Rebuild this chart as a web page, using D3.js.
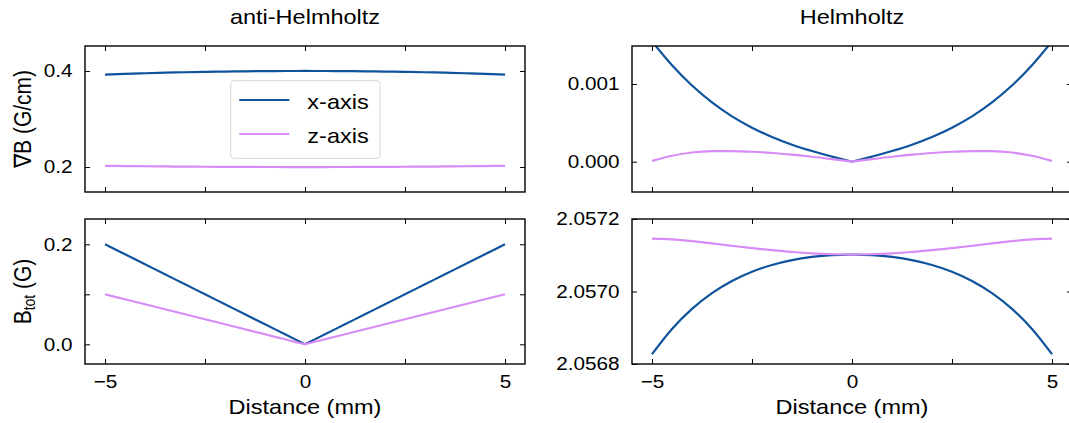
<html>
<head>
<meta charset="utf-8">
<script src="https://d3js.org/d3.v7.min.js"></script>
<style>
  body { margin: 0; background: white; }
  text { font-family: "Liberation Sans", Arial, Helvetica, sans-serif; fill: black; }
</style>
</head>
<body>
<div id="chart"></div>
<script>
// distance (mm)
const distance = [-5, -4.5, -4, -3.5, -3, -2.5, -2, -1.5, -1, -0.5, 0, 0.5, 1, 1.5, 2, 2.5, 3, 3.5, 4, 4.5, 5];

// anti-Helmholtz, gradient (G/cm)
const gradAntiX = [0.3926, 0.3940, 0.3953, 0.3964, 0.3973, 0.3982, 0.3988, 0.3993, 0.3997, 0.3999, 0.4000,
                   0.3999, 0.3997, 0.3993, 0.3988, 0.3982, 0.3973, 0.3964, 0.3953, 0.3940, 0.3926];
const gradAntiZ = [0.2025, 0.2020, 0.2016, 0.2012, 0.2009, 0.2006, 0.2004, 0.2002, 0.2001, 0.2000, 0.2000,
                   0.2000, 0.2001, 0.2002, 0.2004, 0.2006, 0.2009, 0.2012, 0.2016, 0.2020, 0.2025];
// anti-Helmholtz, B total (G)
const btotAntiX = [0.200, 0.180, 0.160, 0.140, 0.120, 0.100, 0.080, 0.060, 0.040, 0.020, 0.000,
                   0.020, 0.040, 0.060, 0.080, 0.100, 0.120, 0.140, 0.160, 0.180, 0.200];
const btotAntiZ = [0.100, 0.090, 0.080, 0.070, 0.060, 0.050, 0.040, 0.030, 0.020, 0.010, 0.000,
                   0.010, 0.020, 0.030, 0.040, 0.050, 0.060, 0.070, 0.080, 0.090, 0.100];
// Helmholtz, gradient (G/cm)
const gradHelmX = [0.00155, 0.001241, 0.000981, 0.000764, 0.000584, 0.000438, 0.000318, 0.000219, 0.000137, 0.000066, 0,
                   0.000066, 0.000137, 0.000219, 0.000318, 0.000438, 0.000584, 0.000764, 0.000981, 0.001241, 0.00155];
const gradHelmZ = [0.000010, 0.000076, 0.000118, 0.000135, 0.000137, 0.000128, 0.000112, 0.000090, 0.000064, 0.000033, 0,
                   0.000033, 0.000064, 0.000090, 0.000112, 0.000128, 0.000137, 0.000135, 0.000118, 0.000076, 0.000010];
// Helmholtz, B total (G)
const btotHelmX = [2.056827, 2.0568966, 2.0569519, 2.0569954, 2.0570289, 2.0570544, 2.0570731, 2.0570865, 2.0570953, 2.0571004, 2.057102,
                   2.0571004, 2.0570953, 2.0570865, 2.0570731, 2.0570544, 2.0570289, 2.0569954, 2.0569519, 2.0568966, 2.056827];
const btotHelmZ = [2.0571457, 2.0571436, 2.0571389, 2.0571327, 2.0571261, 2.0571197, 2.0571139, 2.0571089, 2.0571052, 2.0571028, 2.057102,
                   2.0571028, 2.0571052, 2.0571089, 2.0571139, 2.0571197, 2.0571261, 2.0571327, 2.0571389, 2.0571436, 2.0571457];

const xTicks = [-5, -2.5, 0, 2.5, 5];
const seriesNames = ["x-axis", "z-axis"];
const colors = ["#0e539b", "#d88cf7"];

const W = 1069, H = 423;
const SX = 1.12; // the original picture is a bit wider than tall
const tickFont = 18.5, bigFont = 21;

var svg = d3.select("#chart").append("svg")
  .attr("width", W).attr("height", H);

// stretch a text horizontally around its anchor point
function stretch(sel, rotate) {
  sel.each(function () {
    var t = d3.select(this);
    var x = +t.attr("x") || 0, y = +t.attr("y") || 0;
    t.attr("x", 0).attr("y", 0)
      .attr("transform", `translate(${x},${y}) scale(${SX},1)` + (rotate ? " rotate(-90)" : ""));
  });
}

var cols = [{ x0: 85, x1: 525 }, { x0: 632, x1: 1072 }];
var rows = [{ y0: 46, y1: 192 }, { y0: 219, y1: 364 }];

// split: the curve has a kink at 0, so each half is drawn on its own
var panels = [
  { c: 0, r: 0, dom: [0.148, 0.452], ys: [gradAntiX, gradAntiZ], yt: [0.2, 0.4], split: false, fmt: d => d.toFixed(1) },
  { c: 0, r: 1, dom: [-0.0394, 0.2506], ys: [btotAntiX, btotAntiZ], yt: [0, 0.1, 0.2], split: true, fmt: d => (Math.abs(d - 0.1) < 1e-9 ? "" : d.toFixed(1)) },
  { c: 1, r: 0, dom: [-0.00039, 0.001489], ys: [gradHelmX, gradHelmZ], yt: [0, 0.001], split: true, fmt: d => d.toFixed(3) },
  { c: 1, r: 1, dom: [2.0568, 2.0572], ys: [btotHelmX, btotHelmZ], yt: [2.0568, 2.057, 2.0572], split: false, fmt: d => d.toFixed(4) }
];

panels.forEach(function (p, i) {
  var c = cols[p.c], r = rows[p.r];
  var x = d3.scaleLinear().domain([-5.5, 5.5]).range([c.x0, c.x1]);
  var y = d3.scaleLinear().domain(p.dom).range([r.y1, r.y0]);

  svg.append("clipPath").attr("id", "clip" + i)
    .append("rect").attr("x", c.x0).attr("y", r.y0)
    .attr("width", c.x1 - c.x0).attr("height", r.y1 - r.y0);

  var line = d3.line().x(d => x(d[0])).y(d => y(d[1])).curve(d3.curveMonotoneX);
  p.ys.forEach(function (vals, s) {
    var pts = distance.map((d, k) => [d, vals[k]]);
    var parts = p.split ? [pts.filter(d => d[0] <= 0), pts.filter(d => d[0] >= 0)] : [pts];
    parts.forEach(function (part) {
      svg.append("path")
        .datum(part)
        .attr("clip-path", `url(#clip${i})`)
        .attr("fill", "none")
        .attr("stroke", colors[s])
        .attr("stroke-width", 2.2)
        .attr("stroke-linejoin", "round")
        .attr("d", line);
    });
  });

  var xf = d3.format("");
  var bottom = svg.append("g").attr("transform", `translate(0,${r.y1})`)
    .call(d3.axisBottom(x).tickValues(xTicks).tickSizeInner(-5).tickSizeOuter(0).tickPadding(11)
      .tickFormat(d => (p.r === 1 && d % 5 === 0) ? xf(d) : ""));
  var top = svg.append("g").attr("transform", `translate(0,${r.y0})`)
    .call(d3.axisTop(x).tickValues(xTicks).tickSizeInner(-5).tickSizeOuter(0).tickFormat(""));
  var left = svg.append("g").attr("transform", `translate(${c.x0},0)`)
    .call(d3.axisLeft(y).tickValues(p.yt).tickSizeInner(-5).tickSizeOuter(0).tickPadding(12.5).tickFormat(p.fmt));
  var right = svg.append("g").attr("transform", `translate(${c.x1},0)`)
    .call(d3.axisRight(y).tickValues(p.yt).tickSizeInner(-5).tickSizeOuter(0).tickFormat(""));

  [bottom, top, left, right].forEach(function (a) {
    a.select(".domain").remove();
    a.selectAll(".tick line").attr("stroke", "black").attr("stroke-width", 1);
    a.selectAll(".tick text").attr("font-size", tickFont).attr("fill", "black")
      .style("font-family", '"Liberation Sans", Arial, sans-serif');
  });
  stretch(bottom.selectAll(".tick text"));
  stretch(left.selectAll(".tick text"));

  svg.append("rect")
    .attr("x", c.x0).attr("y", r.y0)
    .attr("width", c.x1 - c.x0).attr("height", r.y1 - r.y0)
    .attr("fill", "none").attr("stroke", "black").attr("stroke-width", 1.4);
});

// titles
["anti-Helmholtz", "Helmholtz"].forEach(function (t, i) {
  svg.append("text").attr("x", (cols[i].x0 + cols[i].x1) / 2).attr("y", 24)
    .attr("text-anchor", "middle").attr("font-size", bigFont).text(t)
    .call(stretch);
});

// x labels
cols.forEach(function (c) {
  svg.append("text").attr("x", (c.x0 + c.x1) / 2).attr("y", 414)
    .attr("text-anchor", "middle").attr("font-size", bigFont).text("Distance (mm)")
    .call(stretch);
});

// y labels
svg.append("text").attr("x", 31).attr("y", (rows[0].y0 + rows[0].y1) / 2)
  .attr("text-anchor", "middle").attr("font-size", bigFont).text("\u2207B (G/cm)")
  .call(stretch, true);

var yl = svg.append("text").attr("x", 31).attr("y", (rows[1].y0 + rows[1].y1) / 2)
  .attr("text-anchor", "middle").attr("font-size", bigFont);
yl.append("tspan").text("B");
yl.append("tspan").attr("font-size", 14).attr("dy", 4).text("tot");
yl.append("tspan").attr("dy", -4).text(" (G)");
yl.call(stretch, true);

// legend
var lg = svg.append("g");
lg.append("rect").attr("x", 230.7).attr("y", 80.7).attr("width", 149.3).attr("height", 77.6)
  .attr("rx", 3).attr("fill", "white").attr("fill-opacity", 0.8)
  .attr("stroke", "#d6d6d6").attr("stroke-width", 1);
seriesNames.forEach(function (n, s) {
  var yy = 100 + s * 34;
  lg.append("line").attr("x1", 239.3).attr("x2", 289.3).attr("y1", yy).attr("y2", yy)
    .attr("stroke", colors[s]).attr("stroke-width", 2.2);
  lg.append("text").attr("x", 307.3).attr("y", yy + 8.5).attr("font-size", bigFont).text(n)
    .call(stretch);
});
</script>
</body>
</html>
